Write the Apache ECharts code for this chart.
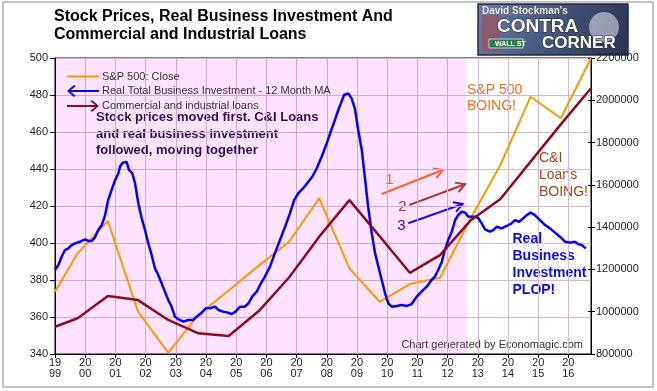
<!DOCTYPE html>
<html><head><meta charset="utf-8">
<script src="https://cdn.jsdelivr.net/npm/echarts@6/dist/echarts.min.js"></script>
<style>html,body{margin:0;padding:0;background:#fff}#c{width:657px;height:391px}</style>
</head><body><div id="c"></div>
<script>
// ---------- DATA ----------
const xTickYears = [1999,2000,2001,2002,2003,2004,2005,2006,2007,2008,2009,2010,2011,2012,2013,2014,2015,2016];
const leftTickValues = [340,360,380,400,420,440,460,480,500];
const rightTickValues = [800000,1000000,1200000,1400000,1600000,1800000,2000000,2200000];

// annual observations (S&P 500 close and C&I loans)
const annualYears = [1999.00,1999.75,2000.75,2001.75,2002.75,2003.75,2004.75,2005.75,2006.75,2007.75,2008.75,2009.75,2010.75,2011.75,2012.75,2013.75,2014.75,2015.75,2016.75];
const spClose = [1095,1276,1429,1000,805,985,1100,1218,1331,1536,1205,1047,1131,1161,1437,1694,2017,1915,2199];
const ciLoans = [929000,969000,1074000,1055000,961000,898000,885000,1003000,1162000,1355000,1528000,1357000,1184000,1268000,1430000,1533000,1710000,1886000,2057000];

// Real Total Business Investment - 12 month MA
const rbiYears = [1999.00,1999.11,1999.22,1999.33,1999.44,1999.55,1999.66,1999.83,1999.99,2000.10,2000.22,2000.32,2000.43,2000.55,2000.66,2000.76,2000.88,2000.99,2001.10,2001.15,2001.24,2001.37,2001.45,2001.56,2001.65,2001.76,2001.87,2001.98,2002.09,2002.20,2002.31,2002.42,2002.53,2002.64,2002.75,2002.86,2002.97,2003.08,2003.25,2003.41,2003.58,2003.69,2003.86,2003.99,2004.13,2004.30,2004.41,2004.57,2004.74,2004.85,2004.98,2005.13,2005.29,2005.42,2005.53,2005.68,2005.82,2005.95,2006.12,2006.28,2006.45,2006.62,2006.78,2006.92,2007.06,2007.22,2007.39,2007.52,2007.67,2007.83,2008.00,2008.11,2008.27,2008.38,2008.49,2008.57,2008.71,2008.82,2008.93,2009.04,2009.16,2009.26,2009.37,2009.49,2009.60,2009.71,2009.82,2009.93,2010.04,2010.15,2010.32,2010.48,2010.65,2010.81,2010.98,2011.14,2011.31,2011.47,2011.58,2011.69,2011.81,2011.91,2012.02,2012.14,2012.25,2012.35,2012.47,2012.58,2012.69,2012.91,2013.02,2013.13,2013.24,2013.40,2013.51,2013.63,2013.79,2013.96,2014.12,2014.23,2014.37,2014.51,2014.62,2014.75,2014.89,2015.06,2015.23,2015.39,2015.56,2015.72,2015.89,2016.05,2016.22,2016.33,2016.44,2016.58];
const rbiValues = [385.4,388.1,392.6,396.2,397.1,398.9,399.8,400.7,402.0,401.1,401.1,402.9,407.0,409.7,415.1,423.2,429.0,434.0,437.7,441.2,443.4,443.8,439.5,437.7,432.3,421.5,413.4,407.0,399.8,393.5,386.3,382.7,378.2,373.7,369.2,365.6,360.2,358.8,357.5,358.4,358.4,360.2,362.3,364.7,364.7,365.6,363.8,362.9,362.3,361.6,362.9,365.6,365.6,367.7,371.0,373.7,378.2,381.8,387.2,394.4,401.6,408.8,416.0,423.2,426.9,429.6,433.1,435.8,440.4,446.6,453.9,459.3,466.5,471.9,476.4,480.0,480.9,478.2,472.8,461.1,450.3,435.8,419.6,405.2,394.4,387.2,380.0,372.8,367.4,365.6,366.0,366.5,366.0,367.0,371.0,373.7,376.4,380.0,381.8,385.4,389.9,396.2,401.6,406.1,412.4,415.1,416.9,416.4,414.2,414.2,413.4,410.6,407.4,406.1,407.0,408.8,407.9,409.2,410.6,412.4,411.5,413.4,415.1,416.4,415.1,412.4,409.7,407.9,405.6,403.4,400.7,400.2,400.7,399.3,398.9,397.1];

const shadeStart = 1999.0, shadeEnd = 2012.63;
const seriesNames = ['S&P 500: Close','Real Total Business Investment - 12 Month MA','Commercial and industrial loans'];

// ---------- CHART ----------
const FONT = "'Liberation Sans', Arial, sans-serif";
const GRIDC = '#D3B9D3';
const chart = echarts.init(document.getElementById('c'), null, {renderer:'canvas'});

function arrow(x1,y1,x2,y2,color){
  const dx=x2-x1, dy=y2-y1, L=Math.hypot(dx,dy), ux=dx/L, uy=dy/L, h=10, a=Math.PI/6;
  const bx=-ux, by=-uy;
  const p1=[x2+h*(bx*Math.cos(a)-by*Math.sin(a)), y2+h*(bx*Math.sin(a)+by*Math.cos(a))];
  const p2=[x2+h*(bx*Math.cos(-a)-by*Math.sin(-a)), y2+h*(bx*Math.sin(-a)+by*Math.cos(-a))];
  return [
    {type:'line', silent:true, shape:{x1,y1,x2,y2}, style:{stroke:color, lineWidth:2}},
    {type:'polyline', silent:true, shape:{points:[p1,[x2,y2],p2]}, style:{stroke:color, lineWidth:2, fill:null}}
  ];
}
function txt(x,y,text,font,fill,extra){
  return {type:'text', silent:true, x, y, style:Object.assign({text, font, fill, textAlign:'left', textVerticalAlign:'top'}, extra||{})};
}

const graphics = [
  {type:'rect', silent:true, z:-10, shape:{x:3,y:2,width:650,height:385}, style:{fill:'none', stroke:'#C4C4C4', lineWidth:2}},
  txt(54,8,'Stock Prices, Real Business Investment And\nCommercial and Industrial Loans','bold 16px '+FONT,'#000',{lineHeight:17.5}),
  // logo
  {type:'group', silent:true, z:100, children:[
    {type:'rect', shape:{x:478,y:4,width:150,height:51}, style:{fill:new echarts.graphic.LinearGradient(0,0,1,1,[{offset:0,color:'#6a7ea6'},{offset:0.5,color:'#44557c'},{offset:1,color:'#2a3350'}]), stroke:'#222a3c', lineWidth:1.5}},
    {type:'rect', shape:{x:482,y:15,width:18,height:36}, style:{fill:'rgba(190,60,60,0.45)'}},
    {type:'circle', shape:{cx:604,cy:27,r:15}, style:{fill:'rgba(235,235,245,0.55)'}},
    txt(482,6,"David Stockman's",'bold 10px '+FONT,'#EDE6C8'),
    txt(497,17,'CONTRA','bold 19px '+FONT,'#FFFFFF',{stroke:'#2a2a2a', lineWidth:1}),
    txt(542,35,'CORNER','bold 17px '+FONT,'#FFFFFF',{stroke:'#2a2a2a', lineWidth:1}),
    {type:'rect', shape:{x:489,y:39,width:34,height:9}, style:{fill:'#2f7a50', stroke:'#d8e8d8', lineWidth:0.8}},
    txt(495,40.5,'WALL ST','bold 7px '+FONT,'#FFFFFF')
  ]},
  txt(96,109.5,'Stock prices moved first. C&I Loans\nand real business investment\nfollowed, moving together','bold 13px '+FONT,'#14143C',{lineHeight:16.5}),
  txt(467,82,'S&P 500\nBOING!','14px '+FONT,'#FF6A13',{lineHeight:16}),
  txt(539,149.5,'C&I\nLoans\nBOING!','14px '+FONT,'#A0451A',{lineHeight:17}),
  txt(512.5,231,'Real\nBusiness\nInvestment\nPLOP!','bold 14px '+FONT,'#0A0AF0',{lineHeight:17}),
  txt(389.5,180,'1','15px '+FONT,'#FF6A13',{textAlign:'center',textVerticalAlign:'middle'}),
  txt(402.5,207,'2','15px '+FONT,'#A0451A',{textAlign:'center',textVerticalAlign:'middle'}),
  txt(401.5,225.5,'3','15px '+FONT,'#0A0AF0',{textAlign:'center',textVerticalAlign:'middle'}),
  ...arrow(381.7,194,442.7,170,'#FF6A13'),
  ...arrow(409.3,205,465,184.3,'#A0451A'),
  ...arrow(408.3,223.3,462.7,204,'#0A0AF0'),
  txt(583,345,'Chart generated by Economagic.com','11px '+FONT,'#333',{textAlign:'right',textVerticalAlign:'middle'})
];

const option = {
  animation:false,
  backgroundColor:'#fff',
  textStyle:{fontFamily:FONT},
  grid:{left:55, right:66, top:58, bottom:37, show:true, borderColor:'#000', borderWidth:1, backgroundColor:'transparent'},
  legend:{
    orient:'vertical', left:62, top:66, itemWidth:32, itemHeight:12, itemGap:3, selectedMode:false,
    textStyle:{fontSize:11, color:'#333', fontFamily:FONT, padding:[0,0,0,-2]},
    data:[
      {name:seriesNames[0], icon:'path://M0,5L32,5L32,7L0,7Z'},
      {name:seriesNames[1], icon:'path://M0,6L7,0L8.6,1.3L3.8,5L32,5L32,7L3.8,7L8.6,10.7L7,12Z'},
      {name:seriesNames[2], icon:'path://M32,6L25,0L23.4,1.3L28.2,5L0,5L0,7L28.2,7L23.4,10.7L25,12Z'}
    ]
  },
  xAxis:{
    type:'value', min:1999, max:2016.75, interval:1,
    axisLine:{lineStyle:{color:'#000'}},
    axisTick:{length:4, lineStyle:{color:'#000'}},
    axisLabel:{fontSize:11, lineHeight:11, color:'#222', margin:3, showMaxLabel:false,
      formatter:v=> xTickYears.includes(v) ? String(v).slice(0,2)+'\n'+String(v).slice(2) : ''},
    splitLine:{show:true, lineStyle:{color:GRIDC}}
  },
  yAxis:[
    {type:'value', position:'left', min:leftTickValues[0], max:leftTickValues[leftTickValues.length-1], interval:leftTickValues[1]-leftTickValues[0],
      axisLine:{show:true, lineStyle:{color:'#000'}}, axisTick:{show:true, length:5, lineStyle:{color:'#000'}},
      axisLabel:{fontSize:11, color:'#222', margin:7}, splitLine:{show:true, lineStyle:{color:GRIDC}}},
    {type:'value', position:'right', min:rightTickValues[0], max:rightTickValues[rightTickValues.length-1], interval:rightTickValues[1]-rightTickValues[0],
      axisLine:{show:true, lineStyle:{color:'#000'}}, axisTick:{show:true, length:4, lineStyle:{color:'#000'}},
      axisLabel:{fontSize:11, color:'#222', margin:5, formatter:v=>String(v)}, splitLine:{show:false}},
    {type:'value', min:800, max:2200, show:false},
    {type:'value', position:'right', min:rightTickValues[0], max:rightTickValues[rightTickValues.length-1], interval:rightTickValues[1]-rightTickValues[0],
      axisLine:{show:false}, axisTick:{show:true, inside:true, length:3, lineStyle:{color:'#000'}}, axisLabel:{show:false}, splitLine:{show:false}}
  ],
  series:[
    {name:seriesNames[0], type:'line', yAxisIndex:2, showSymbol:false, color:'#FF9900', lineStyle:{width:2},
      data:annualYears.map((y,i)=>[y,spClose[i]]),
      markArea:{silent:true, itemStyle:{color:'rgba(255,0,255,0.11)'}, data:[[{xAxis:shadeStart},{xAxis:shadeEnd}]]}},
    {name:seriesNames[1], type:'line', yAxisIndex:0, showSymbol:false, color:'#0000FF', lineStyle:{width:2.5},
      data:rbiYears.map((y,i)=>[y,rbiValues[i]])},
    {name:seriesNames[2], type:'line', yAxisIndex:1, showSymbol:false, color:'#8C0A22', lineStyle:{width:2.5},
      data:annualYears.map((y,i)=>[y,ciLoans[i]])}
  ],
  graphic:graphics
};
chart.setOption(option);
</script></body></html>
